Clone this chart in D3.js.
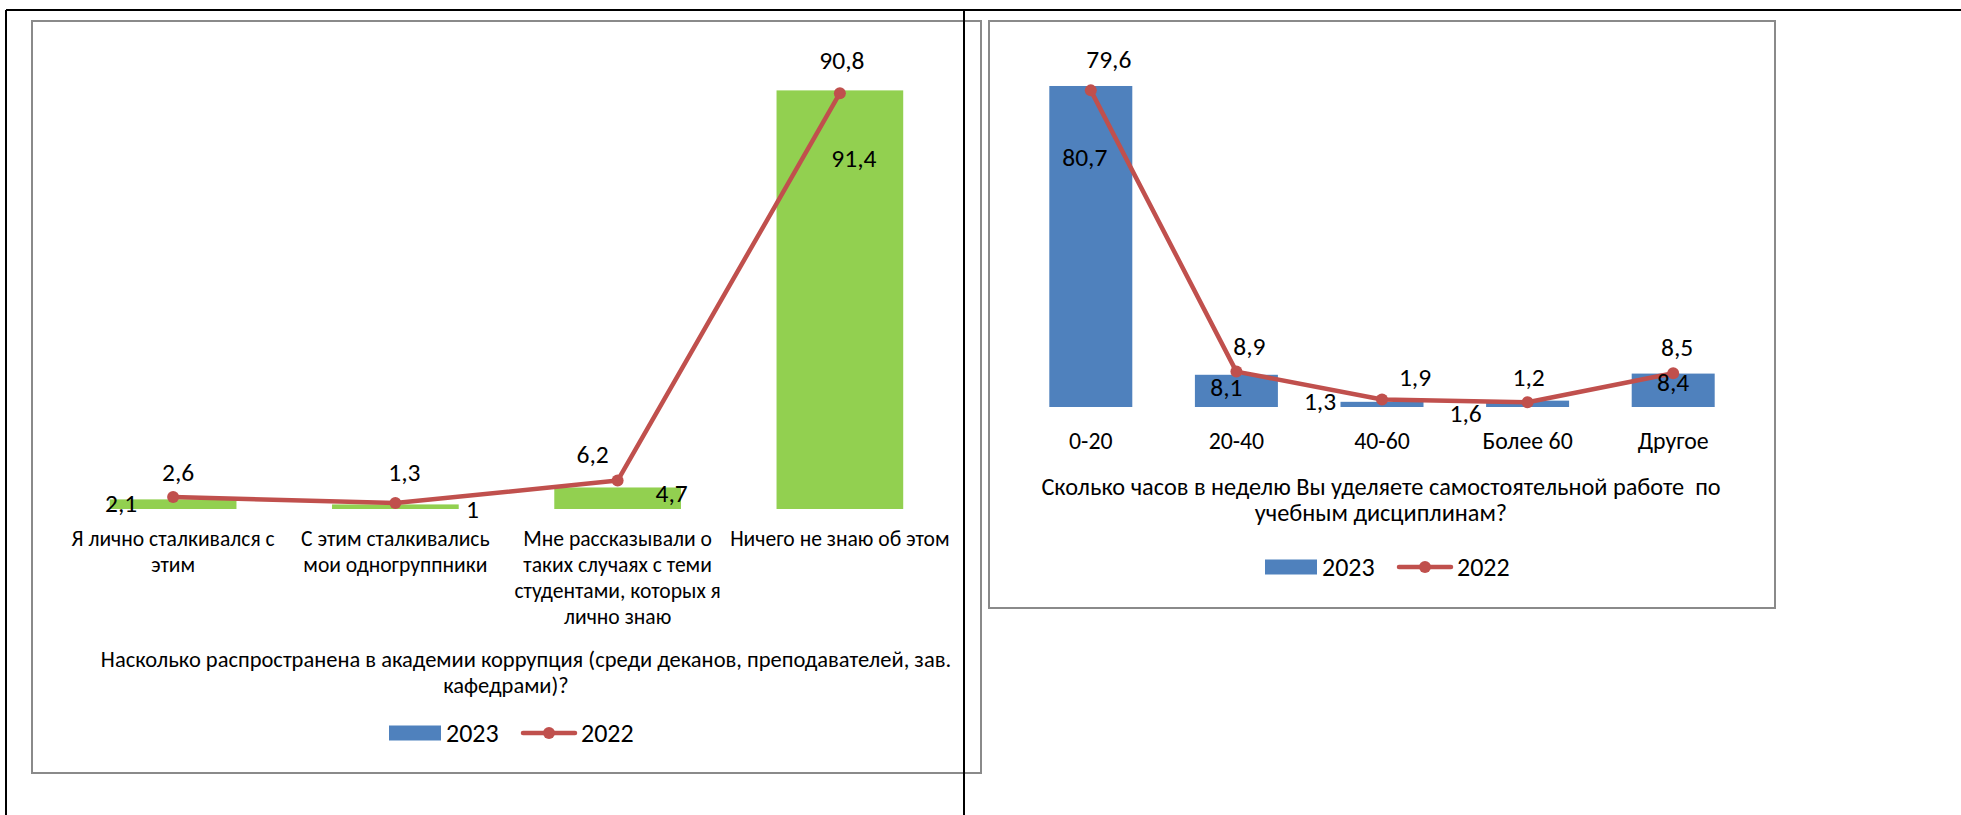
<!DOCTYPE html>
<html>
<head>
<meta charset="utf-8">
<script src="https://cdn.jsdelivr.net/npm/d3@7"></script>
<style>
  body { margin: 0; background: #fff; }
  svg text { font-family: Carlito, Calibri, Lato, sans-serif; fill: #000; }
</style>
</head>
<body>
<svg id="chart" width="1961" height="815"></svg>
<script>
// Left chart: corruption question
const corruptCats = [
    'Я лично сталкивался с\nэтим',
    'С этим сталкивались\nмои одногруппники',
    'Мне рассказывали о\nтаких случаях с теми\nстудентами, которых я\nлично знаю',
    'Ничего не знаю об этом'
];
const corrupt2023 = [2.1, 1, 4.7, 91.4];
const corrupt2022 = [2.6, 1.3, 6.2, 90.8];
const corruptTitle = ['Насколько распространена в академии коррупция (среди деканов, преподавателей, зав.', 'кафедрами)?'];

// Right chart: hours of self-study
const hoursCats = ['0-20', '20-40', '40-60', 'Более 60', 'Другое'];
const hours2023 = [80.7, 8.1, 1.3, 1.6, 8.4];
const hours2022 = [79.6, 8.9, 1.9, 1.2, 8.5];
const hoursTitle = ['Сколько часов в неделю Вы уделяете самостоятельной работе  по', 'учебным дисциплинам?'];

const seriesNames = ['2023', '2022'];

const valueFont = 25.5;
const legendFont = 26;
const blue = '#4F81BD';
const green = '#92D050';
const red = '#C0504D';

const svg = d3.select('#chart');

// outer table lines
svg.append('line').attr('x1', 6).attr('x2', 1961).attr('y1', 10).attr('y2', 10)
    .attr('stroke', '#000').attr('stroke-width', 2);
svg.append('line').attr('x1', 6).attr('x2', 6).attr('y1', 10).attr('y2', 815)
    .attr('stroke', '#000').attr('stroke-width', 2);

function fmt(v) {
    return String(v).replace('.', ',');
}

function drawPanel(cfg) {
    let g = svg.append('g');

    // chart frame
    g.append('rect')
        .attr('x', cfg.frame[0]).attr('y', cfg.frame[1])
        .attr('width', cfg.frame[2]).attr('height', cfg.frame[3])
        .attr('fill', 'none')
        .attr('stroke', '#8a8a8a')
        .attr('stroke-width', 2);

    let x = d3.scaleBand()
        .domain(cfg.cats)
        .range(cfg.xRange)
        .paddingInner(0.43)
        .paddingOuter(0.215);

    let y = d3.scaleLinear()
        .domain([0, cfg.yMax])
        .range(cfg.yRange);

    // bars (2023)
    g.selectAll('.bar')
        .data(cfg.bars)
        .enter()
        .append('rect')
        .attr('class', 'bar')
        .attr('x', (d, i) => x(cfg.cats[i]))
        .attr('y', (d) => y(d))
        .attr('width', x.bandwidth())
        .attr('height', (d) => y(0) - y(d))
        .attr('fill', cfg.barColor);

    // line (2022)
    let cx = (i) => x(cfg.cats[i]) + x.bandwidth() / 2;
    let line = d3.line()
        .x((d, i) => cx(i))
        .y((d) => y(d));

    g.append('path')
        .datum(cfg.line)
        .attr('d', line)
        .attr('fill', 'none')
        .attr('stroke', red)
        .attr('stroke-width', 4.5)
        .attr('stroke-linejoin', 'round');

    g.selectAll('.dot')
        .data(cfg.line)
        .enter()
        .append('circle')
        .attr('class', 'dot')
        .attr('cx', (d, i) => cx(i))
        .attr('cy', (d) => y(d))
        .attr('r', 6)
        .attr('fill', red);

    // value labels
    g.selectAll('.barLabel')
        .data(cfg.bars)
        .enter()
        .append('text')
        .attr('class', 'barLabel')
        .attr('x', (d, i) => cx(i) + cfg.barLabelOffset[i][0])
        .attr('y', (d, i) => y(d) + cfg.barLabelOffset[i][1])
        .attr('text-anchor', 'middle')
        .attr('dominant-baseline', 'central')
        .style('font-size', valueFont + 'px')
        .text((d) => fmt(d));

    g.selectAll('.lineLabel')
        .data(cfg.line)
        .enter()
        .append('text')
        .attr('class', 'lineLabel')
        .attr('x', (d, i) => cx(i) + cfg.lineLabelOffset[i][0])
        .attr('y', (d, i) => y(d) + cfg.lineLabelOffset[i][1])
        .attr('text-anchor', 'middle')
        .attr('dominant-baseline', 'central')
        .style('font-size', valueFont + 'px')
        .text((d) => fmt(d));

    // category labels
    let lineH = 26;
    cfg.cats.forEach((c, i) => {
        let t = g.append('text')
            .attr('text-anchor', 'middle')
            .style('font-size', cfg.catFont + 'px');
        c.split('\n').forEach((s, k) => {
            t.append('tspan')
                .attr('x', cx(i))
                .attr('y', cfg.catY + k * lineH)
                .attr('dominant-baseline', 'central')
                .text(s);
        });
    });

    // axis title
    cfg.title.forEach((s, k) => {
        g.append('text')
            .attr('x', cfg.titleX[k])
            .attr('y', cfg.titleY + k * 26)
            .attr('text-anchor', 'middle')
            .attr('dominant-baseline', 'central')
            .attr('xml:space', 'preserve')
            .style('font-size', cfg.titleFont + 'px')
            .style('white-space', 'pre')
            .text(s);
    });

    // legend
    let lg = g.append('g').attr('transform', 'translate(' + cfg.legend[0] + ',' + cfg.legend[1] + ')');
    lg.append('rect')
        .attr('x', 0).attr('y', -7.5)
        .attr('width', 52).attr('height', 15)
        .attr('fill', blue);
    lg.append('text')
        .attr('x', 57).attr('y', 0)
        .attr('dominant-baseline', 'central')
        .style('font-size', legendFont + 'px')
        .text(seriesNames[0]);
    lg.append('line')
        .attr('x1', 134).attr('x2', 186)
        .attr('y1', 0).attr('y2', 0)
        .attr('stroke', red).attr('stroke-width', 4.5)
        .attr('stroke-linecap', 'round');
    lg.append('circle')
        .attr('cx', 160).attr('cy', 0).attr('r', 6)
        .attr('fill', red);
    lg.append('text')
        .attr('x', 192).attr('y', 0)
        .attr('dominant-baseline', 'central')
        .style('font-size', legendFont + 'px')
        .text(seriesNames[1]);
}

drawPanel({
    frame: [32, 21, 949, 752],
    cats: corruptCats,
    bars: corrupt2023,
    line: corrupt2022,
    barColor: green,
    xRange: [62, 951],
    yMax: 100,
    yRange: [509, 51],
    barLabelOffset: [[-52, 4], [77, 5], [54, 6], [14, 68]],
    lineLabelOffset: [[5, -25], [9, -31], [-25, -26], [2, -33]],
    catY: 538,
    catFont: 21.6,
    title: corruptTitle,
    titleFont: 22.5,
    titleX: [526, 506],
    titleY: 659,
    legend: [389, 733]
});

drawPanel({
    frame: [989, 21, 786, 587],
    cats: hoursCats,
    bars: hours2023,
    line: hours2022,
    barColor: blue,
    xRange: [1018, 1746],
    yMax: 90,
    yRange: [407, 49],
    barLabelOffset: [[-6, 72], [-10, 13], [-62, 0], [-62, 13], [0, 9]],
    lineLabelOffset: [[18, -31], [13, -25], [33, -22], [1, -25], [4, -26]],
    catY: 440,
    catFont: 23.8,
    title: hoursTitle,
    titleFont: 24.3,
    titleX: [1381, 1381],
    titleY: 487,
    legend: [1265, 567]
});

// middle table line on top of the left frame
svg.append('line').attr('x1', 964).attr('x2', 964).attr('y1', 10).attr('y2', 815)
    .attr('stroke', '#000').attr('stroke-width', 2);
</script>
</body>
</html>
